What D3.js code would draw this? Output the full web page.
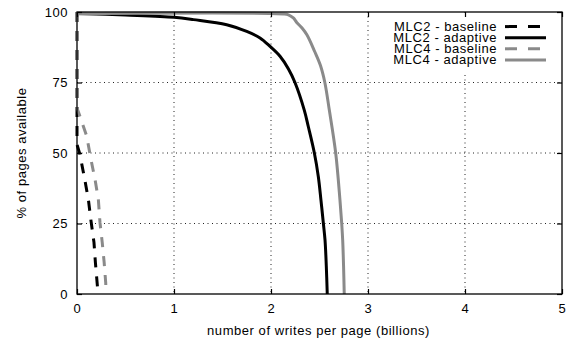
<!DOCTYPE html>
<html>
<head>
<meta charset="utf-8">
<script src="https://cdn.jsdelivr.net/npm/d3@7"></script>
<style>
  body { margin: 0; background: #fff; }
  svg { display: block; font-family: "Liberation Sans", Arial, sans-serif; }
  text { letter-spacing: 0.55px; }
</style>
</head>
<body>
<svg id="chart" width="572" height="343"></svg>
<script>
// Values.
const xTicks = [0, 1, 2, 3, 4, 5];
const yTicks = [0, 25, 50, 75, 100];

const mlc2BaseX = [0, 0, 0.03, 0.08, 0.117, 0.144, 0.175, 0.19, 0.21, 0.215];
const mlc2BaseY = [100, 53, 49.5, 40.6, 33.6, 26, 18.3, 11, 3, 0];

const mlc4BaseX = [0, 0, 0.03, 0.10, 0.144, 0.186, 0.22, 0.237, 0.26, 0.28, 0.296, 0.30];
const mlc4BaseY = [100, 66, 63, 56, 47.7, 40.6, 33.6, 25.3, 18.3, 11.2, 4, 0];

const mlc2AdaptX = [0, 0.5, 1.0, 1.2, 1.543, 1.75, 1.887, 1.99, 2.093, 2.18, 2.247,
  2.343, 2.385, 2.447, 2.488, 2.515, 2.54, 2.557, 2.57, 2.58];
const mlc2AdaptY = [99.5, 98.9, 98.1, 97.3, 95.5, 93.1, 90.8, 87.8, 84.3, 79.8, 75,
  65.2, 59.3, 50, 41.6, 33.3, 25, 19.1, 10, 0];

const mlc4AdaptX = [0, 2.13, 2.18, 2.23, 2.265, 2.32, 2.37, 2.45, 2.51, 2.555, 2.60,
  2.667, 2.711, 2.729, 2.739, 2.748, 2.755];
const mlc4AdaptY = [99.4, 99.3, 99.0, 97.9, 96.3, 94.3, 91.9, 86, 81, 75, 65.5,
  50, 33.3, 25, 19.1, 10, 0];

const seriesNames = ['MLC2 - baseline', 'MLC2 - adaptive', 'MLC4 - baseline', 'MLC4 - adaptive'];

const GRAY = '#8a8a8a';
const DASH = '10,9';
const FONT = 13;

const series = [
  {name: seriesNames[0], xs: mlc2BaseX, ys: mlc2BaseY, color: '#000', dash: DASH},
  {name: seriesNames[1], xs: mlc2AdaptX, ys: mlc2AdaptY, color: '#000', dash: null},
  {name: seriesNames[2], xs: mlc4BaseX, ys: mlc4BaseY, color: GRAY, dash: DASH},
  {name: seriesNames[3], xs: mlc4AdaptX, ys: mlc4AdaptY, color: GRAY, dash: null},
];

const svg = d3.select('#chart');
const plotLeft = 77, plotRight = 562, plotTop = 12, plotBottom = 294;

const x = d3.scaleLinear().domain([0, 5]).range([plotLeft, plotRight]);
const y = d3.scaleLinear().domain([0, 100]).range([plotBottom, plotTop]);

// Dotted grid on the inner ticks.
const grid = svg.append('g')
    .attr('stroke', '#222')
    .attr('stroke-width', 1)
    .attr('stroke-dasharray', '1,3.5');
grid.selectAll('line.gx')
    .data(xTicks.filter(d => d > 0 && d < 5))
    .join('line')
    .attr('class', 'gx')
    .attr('x1', d => x(d)).attr('x2', d => x(d))
    .attr('y1', plotTop).attr('y2', plotBottom);
grid.selectAll('line.gy')
    .data(yTicks.filter(d => d > 0 && d < 100))
    .join('line')
    .attr('class', 'gy')
    .attr('x1', plotLeft).attr('x2', plotRight)
    .attr('y1', d => y(d)).attr('y2', d => y(d));

// Series lines: baselines are straight segments, adaptive curves are smooth.
const straight = d3.line()
    .x(d => x(d[0]))
    .y(d => y(d[1]));
const smooth = d3.line()
    .x(d => x(d[0]))
    .y(d => y(d[1]))
    .curve(d3.curveCatmullRom.alpha(0.5));

svg.append('g')
    .selectAll('path')
    .data(series)
    .join('path')
    .attr('d', s => (s.dash ? straight : smooth)(d3.zip(s.xs, s.ys)))
    .attr('fill', 'none')
    .attr('stroke', s => s.color)
    .attr('stroke-width', 3)
    .attr('stroke-dasharray', s => s.dash);

// Legend (opaque box hides the grid behind it).
const legend = svg.append('g');
legend.append('rect')
    .attr('x', 376).attr('y', plotTop + 1)
    .attr('width', plotRight - 377).attr('height', 59)
    .attr('fill', '#fff');
const rows = legend.selectAll('g')
    .data(series)
    .join('g')
    .attr('transform', (d, i) => `translate(0, ${26.6 + i * 11.1})`);
rows.append('text')
    .attr('x', 497)
    .attr('dy', '0.35em')
    .attr('text-anchor', 'end')
    .attr('font-size', FONT)
    .text(d => d.name);
rows.append('line')
    .attr('x1', 505).attr('x2', 546)
    .attr('stroke', d => d.color)
    .attr('stroke-width', 3)
    .attr('stroke-dasharray', d => d.dash ? '12,11' : null);

// Frame and inward ticks on all four sides.
svg.append('rect')
    .attr('x', plotLeft).attr('y', plotTop)
    .attr('width', plotRight - plotLeft).attr('height', plotBottom - plotTop)
    .attr('fill', 'none')
    .attr('stroke', '#000')
    .attr('stroke-width', 1.3);

const axisBottom = d3.axisBottom(x).tickValues(xTicks).tickSizeInner(-5).tickSizeOuter(0)
    .tickPadding(10).tickFormat(d3.format('d'));
const axisTop = d3.axisTop(x).tickValues(xTicks).tickSizeInner(-5).tickSizeOuter(0)
    .tickFormat('');
const axisLeft = d3.axisLeft(y).tickValues(yTicks).tickSizeInner(-5).tickSizeOuter(0)
    .tickPadding(9).tickFormat(d3.format('d'));
const axisRight = d3.axisRight(y).tickValues(yTicks).tickSizeInner(-5).tickSizeOuter(0)
    .tickFormat('');

function styleAxis(g) {
  g.select('.domain').remove();
  g.selectAll('.tick line').attr('stroke', '#000').attr('stroke-width', 1.2);
  g.selectAll('text')
      .attr('fill', '#000')
      .attr('font-size', FONT)
      .attr('font-family', '"Liberation Sans", Arial, sans-serif');
}

svg.append('g').attr('transform', `translate(0,${plotBottom})`).call(axisBottom).call(styleAxis);
svg.append('g').attr('transform', `translate(0,${plotTop})`).call(axisTop).call(styleAxis);
svg.append('g').attr('transform', `translate(${plotLeft},0)`).call(axisLeft).call(styleAxis);
svg.append('g').attr('transform', `translate(${plotRight},0)`).call(axisRight).call(styleAxis);

// Axis titles.
svg.append('text')
    .attr('x', (plotLeft + plotRight) / 2 - 1)
    .attr('y', 335)
    .attr('text-anchor', 'middle')
    .attr('font-size', FONT)
    .text('number of writes per page (billions)');
svg.append('text')
    .attr('transform', `translate(26, ${(plotTop + plotBottom) / 2}) rotate(-90)`)
    .attr('text-anchor', 'middle')
    .attr('font-size', FONT)
    .text('% of pages available');
</script>
</body>
</html>
